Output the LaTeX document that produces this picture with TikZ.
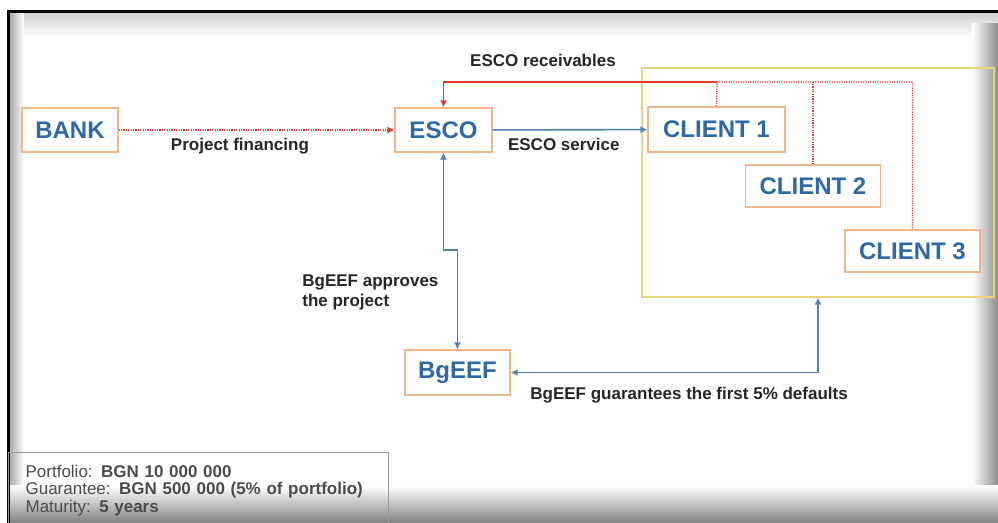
\documentclass[tikz,border=0pt]{standalone}
\usepackage{fontspec}
\setmainfont{Liberation Sans}
\usetikzlibrary{positioning,fit,arrows.meta,calc}
\definecolor{entblue}{HTML}{2C69A5}
\definecolor{boxline}{HTML}{F2B48A}
\definecolor{grpline}{HTML}{F0D27A}
\definecolor{flowblue}{HTML}{4F81B4}
\definecolor{flowred}{HTML}{E8382A}
\definecolor{infogray}{HTML}{9A9A9A}
\tikzset{
  entity/.style={draw=boxline,line width=0.6pt,fill=white,text=entblue,
    font=\fontsize{12}{14}\selectfont\bfseries,minimum height=22pt,inner sep=2pt},
  lbl/.style={font=\fontsize{8.5}{10}\selectfont\bfseries,text=black!85,inner sep=1pt},
  tip/.style={-{Latex[length=3.5pt,width=3.5pt]}},
  flow/.style={draw=flowblue,line width=0.8pt},
  payline/.style={draw=flowred,line width=0.8pt},
  dotline/.style={draw=flowred,line width=0.6pt,dash pattern=on 0.6pt off 0.6pt},
  infobox/.style={draw=infogray,line width=0.6pt,align=left,text=black!70,
    font=\fontsize{8.5}{8.8}\selectfont}
}
\begin{document}
\begin{tikzpicture}[x=0.5pt,y=-0.5pt]
  \useasboundingbox (0,0) rectangle (998,523);
  % slide frame and its shadow
  \fill[white] (0,0) rectangle (998,523);
  \shade[top color=black!18,bottom color=white] (9,14) rectangle (998,36);
  \shade[left color=black!35,right color=white] (9,14) rectangle (24,523);
  \shade[left color=white,right color=black!45] (972,24) rectangle (998,523);
  \shade[top color=white,bottom color=black!50] (9,486) rectangle (998,523);
  \draw[line width=1.5pt] (8,523) -- (8,12) -- (998,12);

  % group of clients
  \node (grp) [draw=grpline,line width=0.6pt,inner sep=0pt,fit={(642,68) (994,297)}] {};

  \node (bank) [entity,minimum width=48pt] at (70,130) {BANK};
  \node (esco) [entity,minimum width=48.5pt] at (443.5,130) {ESCO};
  \node (c1) [entity,minimum width=68.5pt,minimum height=22.5pt] at (716.5,129.5) {CLIENT 1};
  \node (c2) [entity,minimum width=67.5pt,minimum height=21pt] at (813,186) {CLIENT 2};
  \node (c3) [entity,minimum width=67.5pt,minimum height=21pt] at (912.5,251) {CLIENT 3};
  \node (bgeef) [entity,minimum width=52.5pt,minimum height=22.5pt] at (457.5,372.5) {BgEEF};

  % financing and service
  \draw[dotline,tip] (bank) -- node[lbl,pos=0.44,below=3pt] {Project financing} (esco);
  \draw[flow,tip] (esco) -- node[lbl,pos=0.46,below=3pt] {ESCO service} (c1);

  % receivables
  \coordinate (rcv) at (717,82);
  \draw[payline,tip] (rcv) -| (esco.north);
  \draw[dotline] (c1.north) -- (rcv) -| (c3.north);
  \draw[dotline] (c2.north) -- (c2.north |- rcv);
  \node (rcvlbl) [lbl] at (543,60) {ESCO receivables};

  % approval
  \coordinate (jog) at (457.5,250);
  \draw[flow,{Latex[length=3.5pt,width=3.5pt]}-{Latex[length=3.5pt,width=3.5pt]}]
    (esco.south) |- (jog) -- (bgeef.north);
  \node (aprlbl) [lbl,align=left,anchor=north west] at (300,272) {BgEEF approves\\the project};

  % guarantee
  \draw[flow,{Latex[length=3.5pt,width=3.5pt]}-{Latex[length=3.5pt,width=3.5pt]}]
    (bgeef.east) -| (grp.south);
  \node (gtlbl) [lbl,anchor=west] at (528,395) {BgEEF guarantees the first 5\% defaults};

  % portfolio data
  \node (info) [infobox,anchor=north west,text width=173pt,inner xsep=8.5pt,minimum height=38pt] at (8,452)
    {Portfolio: \textbf{BGN 10 000 000}\\
     Guarantee: \textbf{BGN 500 000 (5\% of portfolio)}\\
     Maturity: \textbf{5 years}};
\end{tikzpicture}
\end{document}
